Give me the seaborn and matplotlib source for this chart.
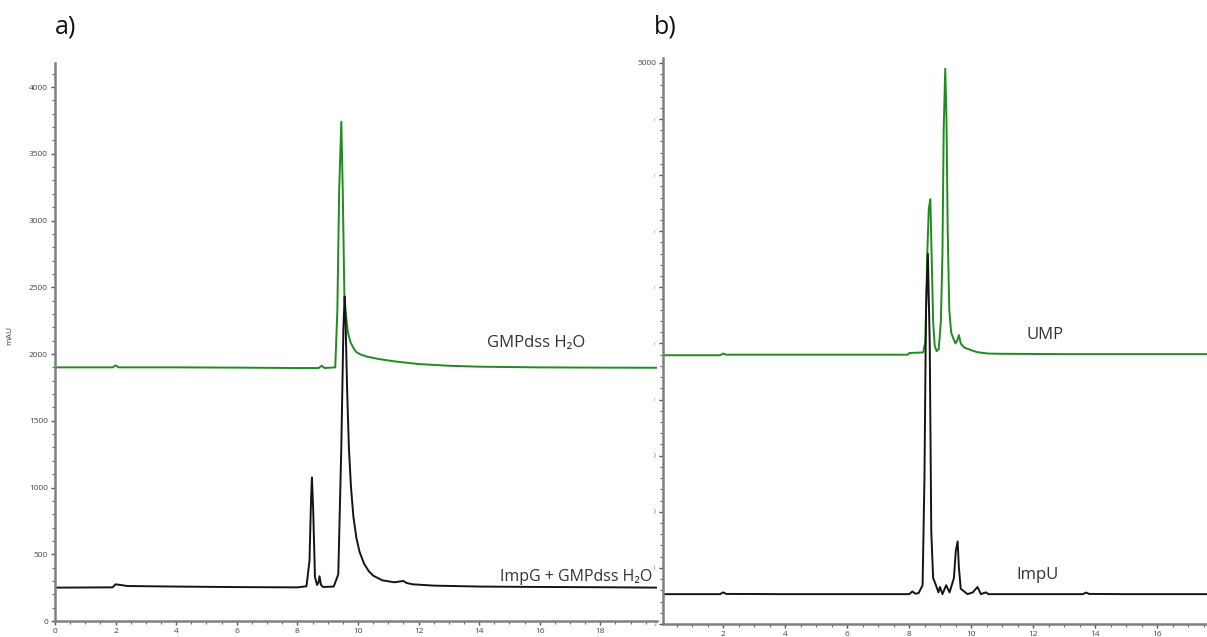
import matplotlib
matplotlib.use("Agg")
import matplotlib.pyplot as plt
from matplotlib.ticker import MultipleLocator
from matplotlib.transforms import Bbox, TransformedBbox
import seaborn as sns

# a) GMPdss in water (green) and ImpG + GMPdss in water (black)
gmp_t = [0, 1.9, 2.0, 2.1, 4, 6, 8, 8.7, 8.8, 8.9, 9.25, 9.32, 9.38, 9.45, 9.5, 9.55, 9.6, 9.67, 9.75, 9.85, 9.94, 10.1, 10.3, 10.7, 11.2, 12, 13, 14, 16, 18, 19.9]
gmp_v = [1900, 1900, 1915, 1900, 1900, 1898, 1895, 1895, 1912, 1895, 1900, 2330, 3230, 3740, 3200, 2450, 2300, 2160, 2090, 2045, 2015, 1995, 1980, 1962, 1945, 1925, 1912, 1905, 1900, 1898, 1897]
impg_t = [0, 1.9, 2.0, 2.15, 2.4, 4, 6, 8, 8.3, 8.4, 8.45, 8.48, 8.52, 8.58, 8.65, 8.7, 8.73, 8.78, 8.85, 9.2, 9.35, 9.45, 9.52, 9.56, 9.59, 9.64, 9.7, 9.77, 9.85, 9.95, 10.05, 10.2, 10.35, 10.5, 10.8, 11.2, 11.5, 11.6, 11.8, 12.5, 14, 16, 18, 19.9]
impg_v = [250, 252, 275, 270, 262, 258, 254, 252, 260, 450, 900, 1075, 850, 330, 270, 290, 335, 270, 255, 258, 350, 1300, 2200, 2430, 2250, 1750, 1300, 1000, 780, 620, 520, 430, 375, 340, 305, 290, 300, 285, 275, 265, 258, 255, 253, 250]

# b) UMP (green) and ImpU (black)
ump_t = [0.05, 1.9, 2.0, 2.1, 4, 6, 7.95, 8.0, 8.45, 8.52, 8.58, 8.63, 8.68, 8.72, 8.77, 8.82, 8.88, 8.95, 9.02, 9.07, 9.11, 9.16, 9.2, 9.24, 9.29, 9.35, 9.42, 9.49, 9.55, 9.6, 9.66, 9.77, 10.0, 10.2, 10.55, 11, 13, 15, 17.6]
ump_v = [2395, 2395, 2410, 2400, 2400, 2400, 2400, 2415, 2420, 2520, 3300, 3700, 3785, 3300, 2700, 2480, 2432, 2450, 2700, 3300, 4400, 4948, 4500, 3500, 2800, 2600, 2545, 2500, 2530, 2575, 2500, 2464, 2440, 2422, 2410, 2408, 2405, 2405, 2405]
impu_t = [0.05, 1.9, 2.0, 2.1, 4, 6, 8.0, 8.1, 8.2, 8.3, 8.43, 8.49, 8.54, 8.6, 8.66, 8.71, 8.77, 8.86, 8.94, 8.99, 9.07, 9.19, 9.3, 9.44, 9.5, 9.56, 9.6, 9.66, 9.88, 10.05, 10.2, 10.31, 10.4, 10.47, 10.55, 12, 13.6, 13.7, 13.8, 15, 17.6]
impu_v = [266, 266, 282, 268, 266, 266, 266, 290, 270, 275, 346, 1300, 2800, 3300, 2500, 822, 410, 346, 282, 330, 266, 346, 282, 410, 650, 735, 505, 314, 266, 282, 330, 266, 275, 282, 266, 266, 266, 280, 268, 266, 266]

left_yticks = list(range(0, 4001, 500))
right_yticks = list(range(0, 5001, 500))
left_xticks = list(range(0, 19, 2))
right_xticks = list(range(2, 17, 2))

sns.set_style("white")
plt.rcParams['font.family'] = ['Open Sans', 'DejaVu Sans']

green = '#1e8c1e'
black = '#141414'
spine_col = '#808080'
txt_col = '#333333'

W, H = 1207, 637
fig = plt.figure(figsize=(W / 100, H / 100), dpi=100)
ax1 = fig.add_axes([55 / W, 16 / H, 602 / W, 558 / H])
ax2 = fig.add_axes([663 / W, 13 / H, 544 / W, 566 / H])

sns.lineplot(x=gmp_t, y=gmp_v, ax=ax1, color=green, linewidth=1.4, estimator=None, sort=False)
sns.lineplot(x=impg_t, y=impg_v, ax=ax1, color=black, linewidth=1.4, estimator=None, sort=False)
sns.lineplot(x=ump_t, y=ump_v, ax=ax2, color=green, linewidth=1.4, estimator=None, sort=False)
sns.lineplot(x=impu_t, y=impu_v, ax=ax2, color=black, linewidth=1.4, estimator=None, sort=False)

ax1.set_xlim(0, 19.87)
ax1.set_ylim(0, 4180)
ax2.set_xlim(0.06, 17.6)
ax2.set_ylim(0, 5044)

for ax in (ax1, ax2):
    ax.set_facecolor('white')
    for s in ('top', 'right'):
        ax.spines[s].set_visible(False)
    for s in ('left', 'bottom'):
        ax.spines[s].set_color(spine_col)
        ax.spines[s].set_linewidth(1.8)
    ax.yaxis.set_minor_locator(MultipleLocator(100))
    ax.xaxis.set_minor_locator(MultipleLocator(0.5))
    ax.tick_params(which='major', direction='out', length=3, width=1, color='#555555',
                   labelsize=6, labelcolor='#444444', pad=2, left=True, bottom=True)
    ax.tick_params(which='minor', direction='out', length=2, width=0.8, color='#666666',
                   left=True, bottom=True)
    ax.set_xlabel('')
    ax.set_ylabel('')

ax1.set_xticks(left_xticks)
ax1.set_yticks(left_yticks)
ax1.set_ylabel('mAU', fontsize=6, color='#444444')
ax1.yaxis.set_label_coords(-0.07, 0.5125)

ax2.set_xticks(right_xticks)
ax2.set_yticks(right_yticks)
ax2.set_yticklabels([str(v) for v in right_yticks])

# the right panel's y labels are cut off by the left panel, only a sliver shows
clip = TransformedBbox(Bbox([[654 / W, 0], [700 / W, 1]]), fig.transFigure)
for lab in ax2.get_yticklabels()[:-1]:
    lab.set_color('#4a8fd4')
    lab.set_clip_box(clip)
    lab.set_clip_on(True)

ax1.text(0.80, 0.498, 'GMPdss H₂O', transform=ax1.transAxes, ha='center', va='center',
         fontsize=12, color=txt_col)
ax1.text(0.866, 0.079, 'ImpG + GMPdss H₂O', transform=ax1.transAxes, ha='center', va='center',
         fontsize=11.5, color=txt_col)
ax2.text(0.702, 0.511, 'UMP', transform=ax2.transAxes, ha='center', va='center',
         fontsize=12, color=txt_col)
ax2.text(0.6875, 0.086, 'ImpU', transform=ax2.transAxes, ha='center', va='center',
         fontsize=12, color=txt_col)

fig.text(55 / W, 1 - 27 / H, 'a)', ha='left', va='center', fontsize=18, color='#111111')
fig.text(654 / W, 1 - 27 / H, 'b)', ha='left', va='center', fontsize=18, color='#111111')

fig.savefig('out.png', dpi=100)
